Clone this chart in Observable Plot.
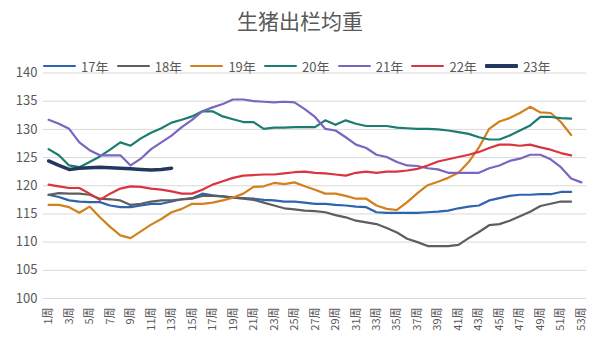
<!DOCTYPE html>
<html>
<head>
<meta charset="utf-8">
<script src="https://cdn.jsdelivr.net/npm/d3@7"></script>
<script src="https://cdn.jsdelivr.net/npm/@observablehq/plot@0.6"></script>
<style>
  html, body { margin: 0; padding: 0; background: #fff; }
  #wrap { position: relative; width: 600px; height: 352px; font-family: "Noto Sans CJK SC", "Noto Sans", sans-serif; color: #595959; }
  #title { position: absolute; left: 0; top: 6px; width: 600px; text-align: center; font-size: 21px; line-height: 28px; color: #595959; }
  #legend { position: absolute; left: 43px; top: 58px; height: 16px; display: flex; align-items: center; font-size: 13px; color: #595959; }
  .item { display: flex; align-items: center; width: 73.7px; }
  .sw { display: inline-block; width: 33px; margin-right: 5px; border-radius: 1px; }
  #chart { position: absolute; left: 0; top: 58px; }
</style>
</head>
<body>
<div id="wrap">
  <div id="title">生猪出栏均重</div>
  <div id="legend"></div>
  <div id="chart"></div>
</div>
<script>
const years = ["17年", "18年", "19年", "20年", "21年", "22年", "23年"];
const colors = ["#2E63B0", "#5E5E5E", "#D3801E", "#1B7C6F", "#7B66BF", "#D93440", "#22385F"];
const yTicks = [100, 105, 110, 115, 120, 125, 130, 135, 140];
const weekTicks = [1,3,5,7,9,11,13,15,17,19,21,23,25,27,29,31,33,35,37,39,41,43,45,47,49,51,53];

const y17 = [118.4,118.0,117.4,117.2,117.1,117.1,116.5,116.2,116.2,116.5,116.8,116.8,117.2,117.6,117.8,118.6,118.3,118.1,117.9,117.8,117.7,117.5,117.4,117.2,117.2,117.0,116.8,116.8,116.6,116.5,116.3,116.2,115.3,115.2,115.2,115.2,115.2,115.3,115.4,115.6,116.0,116.3,116.5,117.4,117.8,118.2,118.4,118.4,118.5,118.5,118.9,118.9];
const y18 = [118.4,118.7,118.6,118.6,118.4,117.7,117.6,117.4,116.6,116.8,117.2,117.4,117.4,117.6,117.7,118.2,118.2,118.1,117.9,117.7,117.5,117.0,116.5,116.0,115.8,115.6,115.5,115.3,114.8,114.4,113.8,113.5,113.2,112.5,111.7,110.6,110.0,109.3,109.3,109.3,109.5,110.7,111.8,113.0,113.2,113.8,114.6,115.4,116.4,116.8,117.2,117.2];
const y19 = [116.6,116.6,116.2,115.2,116.3,114.4,112.7,111.2,110.7,111.9,113.1,114.1,115.3,115.9,116.8,116.8,117.0,117.4,117.9,118.6,119.8,119.9,120.5,120.3,120.6,119.9,119.3,118.6,118.6,118.2,117.7,117.7,116.5,115.9,115.7,117.1,118.7,120.1,120.7,121.4,122.3,124.2,126.8,130.1,131.4,132.0,132.9,134.0,133.0,132.9,131.3,129.0];
const y20 = [126.5,125.4,123.6,123.3,124.2,125.2,126.4,127.7,127.1,128.4,129.4,130.2,131.2,131.7,132.3,133.2,133.2,132.3,131.8,131.3,131.3,130.1,130.3,130.3,130.4,130.4,130.4,131.6,130.8,131.6,131.0,130.6,130.6,130.6,130.3,130.2,130.1,130.1,130.0,129.8,129.5,129.2,128.6,128.2,128.2,128.9,129.8,130.7,132.2,132.2,132.0,131.9];
const y21 = [131.7,131.0,130.1,127.7,126.3,125.4,125.4,125.4,123.6,124.8,126.5,127.7,128.9,130.4,131.7,133.2,133.9,134.5,135.3,135.3,135.0,134.9,134.8,134.9,134.8,133.6,132.2,130.1,129.8,128.6,127.3,126.7,125.5,125.1,124.2,123.6,123.5,123.1,122.9,122.3,122.3,122.3,122.3,123.1,123.6,124.4,124.8,125.5,125.5,124.7,123.3,121.3,120.6];
const y22 = [120.2,119.9,119.6,119.6,118.6,117.5,118.6,119.5,119.9,119.8,119.5,119.3,119.0,118.6,118.6,119.3,120.2,120.8,121.4,121.8,121.9,122.0,122.0,122.2,122.4,122.5,122.3,122.2,122.0,121.8,122.3,122.5,122.3,122.5,122.5,122.7,123.0,123.6,124.3,124.7,125.1,125.5,126.0,126.7,127.3,127.3,127.1,127.3,126.8,126.4,125.8,125.4];
const y23 = [124.4,123.6,122.9,123.1,123.2,123.3,123.2,123.1,123.0,122.9,122.8,122.9,123.1];

const seriesValues = [y17, y18, y19, y20, y21, y22, y23];
const rows = [];
seriesValues.forEach((vals, k) => vals.forEach((v, i) => rows.push({year: years[k], week: i + 1, value: v})));

// legend
const legend = document.getElementById("legend");
years.forEach((y, k) => {
  const it = document.createElement("div");
  it.className = "item";
  const sw = document.createElement("span");
  sw.className = "sw";
  sw.style.height = (y === "23年" ? 3.5 : 2.2) + "px";
  sw.style.background = colors[k];
  const tx = document.createElement("span");
  tx.textContent = y;
  it.appendChild(sw); it.appendChild(tx);
  legend.appendChild(it);
});

const chart = Plot.plot({
  width: 600,
  height: 294,
  marginTop: 14.5,
  marginBottom: 54,
  marginLeft: 43,
  marginRight: 14,
  style: {fontFamily: "'Noto Sans CJK SC', 'Noto Sans', sans-serif", color: "#595959", background: "transparent"},
  x: {type: "linear", domain: [0.5, 53.5]},
  y: {domain: [100, 140]},
  color: {domain: years, range: colors},
  marks: [
    Plot.ruleY(yTicks, {stroke: "#d9d9d9", strokeWidth: 1}),
    Plot.axisY({ticks: yTicks, tickSize: 0, tickPadding: 6, fontSize: 13, label: null}),
    Plot.axisX({ticks: weekTicks, tickSize: 0, tickPadding: 9, tickRotate: -90, fontSize: 11, label: null, tickFormat: d => d + "周"}),
    Plot.line(rows.filter(d => d.year !== "23年"), {x: "week", y: "value", stroke: "year", strokeWidth: 2.2, strokeLinejoin: "round", strokeLinecap: "round"}),
    Plot.line(rows.filter(d => d.year === "23年"), {x: "week", y: "value", stroke: "year", strokeWidth: 3.5, strokeLinejoin: "round", strokeLinecap: "round"})
  ]
});
document.getElementById("chart").appendChild(chart);
</script>
</body>
</html>
